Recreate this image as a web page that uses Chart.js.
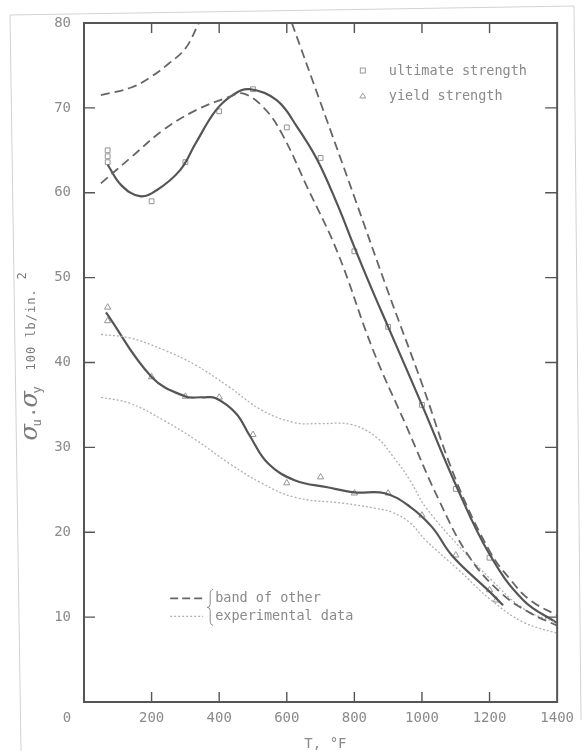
<!DOCTYPE html>
<html>
<head>
<meta charset="utf-8">
<script src="https://cdn.jsdelivr.net/npm/chart.js@4.4.1/dist/chart.umd.min.js"></script>
<style>
  html, body { margin: 0; padding: 0; background: #fff; }
  #wrap { width: 582px; height: 751px; position: relative; overflow: hidden; }
  #strength { filter: blur(0.3px); }
</style>
</head>
<body>
<div id="wrap"><canvas id="strength" width="582" height="751"></canvas></div>
<script>
// test points, temperature in F, stress in 100 lb/in.2
const ultT = [70, 70, 70, 200, 300, 400, 500, 600, 700, 800, 900, 1000, 1100, 1200];
const ultV = [65.0, 64.3, 63.6, 59.0, 63.6, 69.6, 72.2, 67.7, 64.1, 53.1, 44.2, 35.0, 25.1, 17.0];
const yldT = [70, 70, 200, 300, 400, 500, 600, 700, 800, 900, 1000, 1100, 1200, 1220];
const yldV = [46.5, 44.9, 38.3, 36.0, 35.9, 31.5, 25.8, 26.5, 24.6, 24.6, 22.0, 17.3, 13.2, 12.0];

// faired curves through the test points
const ultCurveT = [70, 110, 165, 215, 285, 330, 390, 440, 490, 570, 630, 690, 750, 800, 850, 900, 1000, 1100, 1200, 1300, 1400];
const ultCurveV = [63.3, 60.9, 59.6, 60.3, 62.7, 65.8, 69.7, 71.5, 72.2, 70.9, 67.8, 63.9, 58.6, 53.6, 48.8, 44.2, 35.0, 25.6, 17.4, 12.0, 9.3];
const yldCurveT = [65, 200, 300, 350, 390, 450, 490, 545, 625, 720, 800, 890, 965, 1030, 1090, 1200, 1240];
const yldCurveV = [45.9, 38.3, 36.0, 35.9, 35.8, 34.0, 31.4, 28.1, 26.1, 25.3, 24.7, 24.6, 23.0, 20.6, 17.2, 13.0, 11.4];

// band of other experimental data (ultimate: dashed, yield: dotted)
const ultHiAT = [50, 140, 200, 250, 300, 340];
const ultHiAV = [71.5, 72.4, 73.7, 75.2, 77.0, 80.0];
const ultHiBT = [615, 700, 800, 900, 1000, 1100, 1200, 1260, 1320, 1400];
const ultHiBV = [80.0, 70.6, 59.5, 48.3, 37.5, 26.2, 17.8, 14.5, 12.0, 10.2];
const ultLoT = [50, 140, 235, 330, 430, 470, 530, 585, 660, 750, 855, 955, 1050, 1140, 1235, 1320, 1400];
const ultLoV = [61.1, 64.2, 67.4, 69.7, 71.3, 71.7, 70.1, 67.0, 60.7, 53.0, 41.5, 32.4, 23.8, 17.1, 12.8, 10.5, 9.0];
const yldHiT = [50, 135, 235, 330, 430, 525, 625, 700, 790, 865, 915, 965, 1010, 1120, 1205, 1300, 1400];
const yldHiV = [43.3, 42.9, 41.5, 39.7, 37.1, 34.4, 32.9, 32.8, 32.7, 31.2, 28.9, 26.1, 23.0, 17.9, 14.4, 11.0, 9.3];
const yldLoT = [50, 135, 235, 330, 430, 525, 625, 770, 865, 915, 965, 1010, 1110, 1205, 1300, 1400];
const yldLoV = [35.9, 35.2, 33.2, 30.9, 28.1, 25.8, 24.1, 23.4, 22.8, 22.3, 21.1, 19.1, 15.5, 12.0, 9.4, 8.1];

const xTicks = [0, 200, 400, 600, 800, 1000, 1200, 1400];
const yTicks = [0, 10, 20, 30, 40, 50, 60, 70, 80];

const INK = '#555';
const GREY = '#8a8a8a';
const MONO = '"DejaVu Sans Mono", "Liberation Mono", monospace';

function xy(ts, vs) {
  return ts.map((t, i) => ({ x: t, y: vs[i] }));
}

function curve(ts, vs, style) {
  return Object.assign({
    data: xy(ts, vs),
    showLine: true,
    pointRadius: 0,
    fill: false,
    tension: 0.4,
  }, style);
}

const dashed = { borderColor: '#666', borderWidth: 1.8, borderDash: [9, 5] };
const dotted = { borderColor: '#b0b0b0', borderWidth: 1.3, borderDash: [2, 2] };
const solid = { borderColor: INK, borderWidth: 2.2 };

const data = {
  datasets: [
    curve(ultHiAT, ultHiAV, dashed),
    curve(ultHiBT, ultHiBV, dashed),
    curve(ultLoT, ultLoV, dashed),
    curve(yldHiT, yldHiV, dotted),
    curve(yldLoT, yldLoV, dotted),
    curve(ultCurveT, ultCurveV, solid),
    curve(yldCurveT, yldCurveV, solid),
    {
      label: 'ultimate strength',
      data: xy(ultT, ultV),
      pointStyle: 'rect',
      pointRadius: 3.4,
      borderWidth: 1,
      borderColor: '#949494',
      backgroundColor: '#fff',
    },
    {
      label: 'yield strength',
      data: xy(yldT, yldV),
      pointStyle: 'triangle',
      pointRadius: 3.6,
      borderWidth: 1,
      borderColor: '#949494',
      backgroundColor: '#fff',
    },
  ],
};

// box, inward ticks, origin label, axis title and the two keys
const decor = {
  id: 'decor',
  beforeDraw(chart) {
    const ctx = chart.ctx;
    ctx.save();
    ctx.strokeStyle = '#d2d2d2';
    ctx.lineWidth = 1;
    ctx.beginPath();
    ctx.moveTo(21, 751);
    ctx.lineTo(10, 15);
    ctx.lineTo(574, 6);
    ctx.lineTo(581, 720);
    ctx.stroke();
    ctx.restore();
  },
  afterDraw(chart) {
    const { ctx, chartArea: a, scales: { x, y } } = chart;
    ctx.save();

    ctx.strokeStyle = INK;
    ctx.lineWidth = 2;
    ctx.strokeRect(a.left, a.top, a.right - a.left, a.bottom - a.top);

    ctx.lineWidth = 1.4;
    ctx.beginPath();
    xTicks.slice(1, -1).forEach(t => {
      const px = x.getPixelForValue(t);
      ctx.moveTo(px, a.bottom); ctx.lineTo(px, a.bottom - 10);
      ctx.moveTo(px, a.top); ctx.lineTo(px, a.top + 10);
    });
    yTicks.slice(1, -1).forEach(v => {
      const py = y.getPixelForValue(v);
      ctx.moveTo(a.left, py); ctx.lineTo(a.left + 11, py);
      ctx.moveTo(a.right, py); ctx.lineTo(a.right - 12, py);
    });
    ctx.stroke();

    // shared origin label
    ctx.fillStyle = GREY;
    ctx.font = '14px ' + MONO;
    ctx.textAlign = 'center';
    ctx.textBaseline = 'middle';
    ctx.fillText('0', a.left - 17, a.bottom + 16);

    // x title, cut by the page edge
    ctx.font = '14px ' + MONO;
    ctx.textAlign = 'left';
    ctx.fillText('T, \u00b0F', x.getPixelForValue(652), a.bottom + 42);

    // y title
    ctx.save();
    ctx.translate(a.left - 47, (a.top + a.bottom) / 2 + 78);
    ctx.rotate(-Math.PI / 2);
    ctx.textAlign = 'left';
    ctx.textBaseline = 'alphabetic';
    ctx.fillStyle = '#7a7a7a';
    ctx.font = 'italic 24px "DejaVu Serif", serif';
    ctx.fillText('\u03c3', 0, 0);
    ctx.font = '12px ' + MONO;
    ctx.fillText('u', 14, 4);
    ctx.font = 'bold 14px ' + MONO;
    ctx.fillText('.', 24, -2);
    ctx.font = 'italic 24px "DejaVu Serif", serif';
    ctx.fillText('\u03c3', 33, 0);
    ctx.font = '12px ' + MONO;
    ctx.fillText('y', 47, 4);
    ctx.font = '12px ' + MONO;
    ctx.letterSpacing = '1px';
    ctx.fillText('100 lb/in.', 70, -2);
    ctx.letterSpacing = '0px';
    ctx.fillText('2', 161, -11);
    ctx.restore();

    // marker key, top right
    const kx = x.getPixelForValue(825);
    const k1 = y.getPixelForValue(74.4);
    const k2 = y.getPixelForValue(71.4);
    ctx.strokeStyle = '#9a9a9a';
    ctx.lineWidth = 1;
    ctx.strokeRect(kx - 2.5, k1 - 2.5, 5, 5);
    ctx.beginPath();
    ctx.moveTo(kx, k2 - 3); ctx.lineTo(kx + 3, k2 + 2); ctx.lineTo(kx - 3, k2 + 2); ctx.closePath();
    ctx.stroke();
    ctx.fillStyle = GREY;
    ctx.font = '13.5px ' + MONO;
    ctx.textAlign = 'left';
    ctx.textBaseline = 'middle';
    ctx.fillText('ultimate strength', kx + 26, k1 + 1);
    ctx.fillText('yield strength', kx + 26, k2 + 1);

    // line key, lower left
    const lx = x.getPixelForValue(255);
    const l1 = y.getPixelForValue(12.2);
    const l2 = y.getPixelForValue(10.1);
    ctx.strokeStyle = '#666';
    ctx.lineWidth = 1.8;
    ctx.setLineDash([8, 4]);
    ctx.beginPath(); ctx.moveTo(lx, l1); ctx.lineTo(lx + 33, l1); ctx.stroke();
    ctx.strokeStyle = '#b0b0b0';
    ctx.lineWidth = 1.3;
    ctx.setLineDash([2, 2]);
    ctx.beginPath(); ctx.moveTo(lx, l2); ctx.lineTo(lx + 33, l2); ctx.stroke();
    ctx.setLineDash([]);
    const bx = lx + 40, bt = l1 - 9, bb = l2 + 9, bm = (bt + bb) / 2;
    ctx.strokeStyle = '#8a8a8a';
    ctx.lineWidth = 1;
    ctx.beginPath();
    ctx.moveTo(bx + 3, bt);
    ctx.quadraticCurveTo(bx, bt, bx, bt + 5);
    ctx.lineTo(bx, bm - 3);
    ctx.quadraticCurveTo(bx, bm, bx - 3, bm);
    ctx.quadraticCurveTo(bx, bm, bx, bm + 3);
    ctx.lineTo(bx, bb - 5);
    ctx.quadraticCurveTo(bx, bb, bx + 3, bb);
    ctx.stroke();
    ctx.fillStyle = GREY;
    ctx.fillText('band of other', bx + 5, l1);
    ctx.fillText('experimental data', bx + 5, l2);

    ctx.restore();
  },
};

const config = {
  type: 'scatter',
  data: data,
  options: {
    responsive: false,
    animation: false,
    events: [],
    layout: { padding: { top: 23, right: 18, left: 0, bottom: 0 } },
    plugins: {
      legend: { display: false },
      tooltip: { enabled: false },
    },
    scales: {
      x: {
        type: 'linear',
        min: 0,
        max: 1400,
        afterBuildTicks: (s) => { s.ticks = xTicks.map(v => ({ value: v })); },
        afterFit: (s) => { s.height = 49; },
        grid: { display: false, drawTicks: false },
        border: { display: false },
        ticks: {
          padding: 8,
          color: GREY,
          font: { family: MONO, size: 14 },
          maxRotation: 0,
          callback: (v) => (v === 0 ? '' : v),
        },
      },
      y: {
        type: 'linear',
        min: 0,
        max: 80,
        afterBuildTicks: (s) => { s.ticks = yTicks.map(v => ({ value: v })); },
        afterFit: (s) => { s.width = 84; },
        grid: { display: false, drawTicks: false },
        border: { display: false },
        ticks: {
          padding: 13,
          color: GREY,
          font: { family: MONO, size: 14 },
          callback: (v) => (v === 0 ? '' : v),
        },
      },
    },
  },
  plugins: [decor],
};

var strengthChart = new Chart(document.getElementById('strength'), config);
</script>
</body>
</html>
